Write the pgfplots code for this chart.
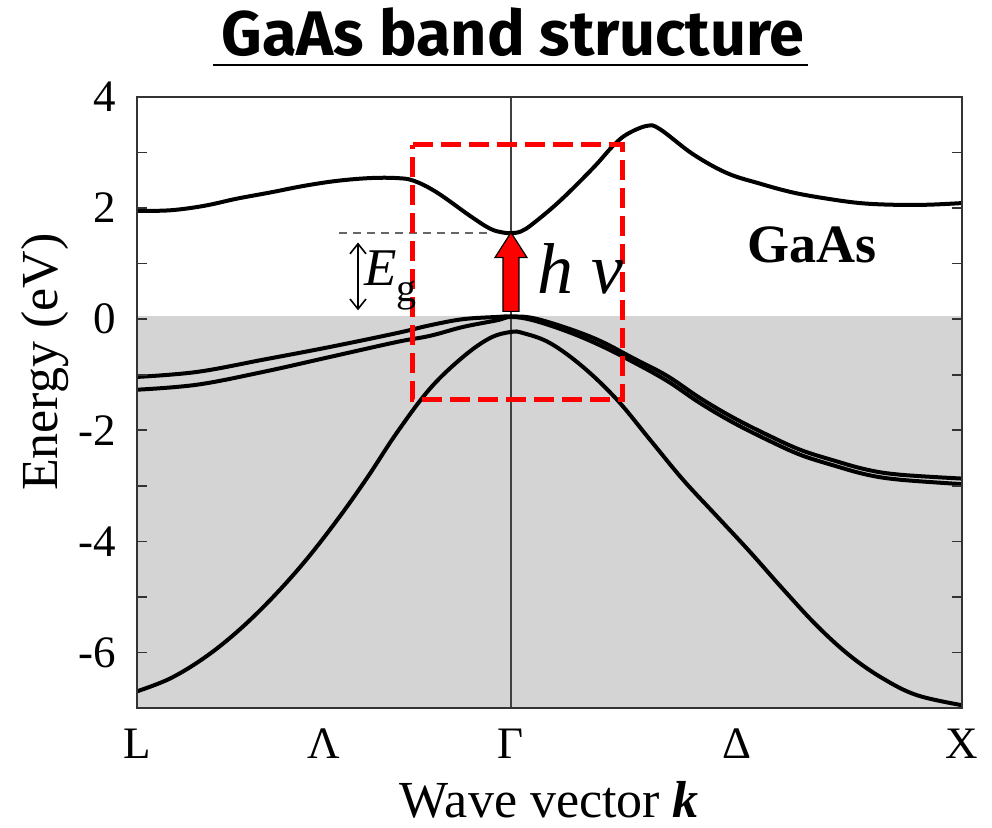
\documentclass[border=0pt]{standalone}
\usepackage{pgfplots}
\pgfplotsset{compat=1.18}
\usepackage{fontspec}
\setmainfont{Liberation Serif}
\newfontfamily\titlefont{Fira Sans}
\usetikzlibrary{arrows.meta}
\begin{document}
\begin{tikzpicture}
\useasboundingbox (-68.5pt,-60pt) rectangle (427.5pt,354pt);
\begin{axis}[
  scale only axis, width=412.5pt, height=305.5pt,
  xmin=0, xmax=825, ymin=-7, ymax=4,
  axis on top,
  axis line style={black!80, line width=1pt},
  xtick={0,187,374,600,825}, xticklabels={L,Λ,Γ,Δ,X},
  xtick style={draw=none},
  ytick={-6,-4,...,4}, minor ytick={-5,-3,-1,1,3},
  tick align=inside, ytick pos=both, yticklabel pos=left,
  major tick length=5pt, minor tick length=5pt,
  ytick style={black!80, line width=0.8pt},
  /pgf/number format/assume math mode=true,
  tick label style={font=\fontsize{22.5}{22.5}\selectfont},
  xticklabel style={yshift=-7pt},
  yticklabel style={xshift=-7pt},
  xlabel={Wave vector \textbf{\textit{k}}},
  ylabel={Energy (eV)},
  label style={font=\fontsize{26}{26}\selectfont},
  xlabel style={at={(axis description cs:0.5,-0.1506)}, anchor=center},
  ylabel style={at={(axis description cs:-0.1115,0.566)}, anchor=center},
  clip=false,
]
% shaded valence region
\addplot[draw=none, fill=black!17] coordinates {(0,0.05) (825,0.05) (825,-7) (0,-7)} -- cycle;
% Gamma line
\addplot[black!75, line width=1pt] coordinates {(374,-7) (374,4)};
% conduction band
\addplot[black, line width=2pt, smooth, tension=0.6] coordinates {
(0,1.95) (33,1.96) (67,2.04) (100,2.17) (133,2.28) (167,2.40) (200,2.49) (233,2.54) (260,2.54)
(277,2.49) (300,2.28) (333,1.86) (353,1.63) (366,1.56) (374,1.55) (384,1.58) (396,1.72)
(423,2.13) (456,2.72) (476,3.12) (490,3.33) (510,3.48) (523,3.42) (556,2.97) (590,2.63)
(623,2.44) (656,2.28) (690,2.17) (723,2.09) (756,2.06) (790,2.06) (825,2.09)};
% heavy hole
\addplot[black, line width=2pt, smooth, tension=0.6] coordinates {
(0,-1.04) (60,-0.95) (126,-0.73) (193,-0.50) (260,-0.25) (293,-0.11) (326,0.0) (360,0.04)
(374,0.05) (396,0.02) (430,-0.16) (463,-0.39) (496,-0.70) (530,-1.02) (563,-1.42)
(596,-1.77) (630,-2.08) (663,-2.35) (696,-2.54) (730,-2.71) (763,-2.80) (825,-2.87)};
% light hole
\addplot[black, line width=2pt, smooth, tension=0.6] coordinates {
(0,-1.27) (60,-1.18) (126,-0.95) (193,-0.68) (260,-0.41) (293,-0.30) (326,-0.14) (360,-0.02)
(374,0.04) (396,-0.02) (430,-0.22) (463,-0.47) (496,-0.77) (530,-1.11) (563,-1.51)
(596,-1.86) (630,-2.17) (663,-2.44) (696,-2.63) (730,-2.80) (763,-2.89) (825,-2.97)};
% split-off
\addplot[black, line width=2pt, smooth, tension=0.6] coordinates {
(0,-6.70) (33,-6.47) (67,-6.10) (100,-5.63) (133,-5.06) (167,-4.38) (200,-3.62) (230,-2.86) (260,-2.04)
(293,-1.25) (326,-0.68) (353,-0.34) (374,-0.23) (386,-0.25) (413,-0.43) (446,-0.86)
(480,-1.45) (513,-2.17) (546,-2.89) (580,-3.55) (613,-4.19) (646,-4.86) (680,-5.52)
(713,-6.06) (746,-6.47) (780,-6.77) (825,-6.95)};
% gap guide line
\addplot[black!60, line width=1pt, dash pattern=on 4pt off 3pt] coordinates {(202,1.56) (351,1.56)};
% red dashed box
\addplot[red, line width=2.5pt, dash pattern=on 10pt off 4pt] coordinates {(276,3.14) (485,3.14) (485,-1.45) (276,-1.45)} -- cycle;
% red arrow
\addplot[fill=red, draw=black, line width=0.6pt] coordinates {(366,0.14) (382,0.14) (382,1.11) (390,1.11) (374,1.56) (358,1.11) (366,1.11)} -- cycle;
% Eg double arrow
\draw[black, line width=0.8pt, {Straight Barb[length=5pt,width=8pt]}-{Straight Barb[length=5pt,width=8pt]}] (axis cs:221,1.38) -- (axis cs:221,0.16);
\node[anchor=base west, inner sep=0pt, font=\fontsize{26.5}{26.5}\selectfont] at (axis cs:227,0.61) {\itshape E\/\upshape\raisebox{-0.3em}{\fontsize{20}{20}\selectfont g}};
\node[anchor=base west, inner sep=0pt, font=\fontsize{36}{36}\selectfont\itshape] at (axis cs:400,0.47) {h ν};
\node[anchor=base west, inner sep=0pt, font=\fontsize{27}{27}\selectfont\bfseries] at (axis cs:610,1.02) {GaAs};
\end{axis}
\node[anchor=base, inner sep=0pt, font=\titlefont\bfseries\fontsize{31.5}{31.5}\selectfont] at (188pt,326pt) {GaAs band structure};
\draw[black, line width=1pt] (38pt,321.5pt) -- (335.5pt,321.5pt);
\end{tikzpicture}
\end{document}
